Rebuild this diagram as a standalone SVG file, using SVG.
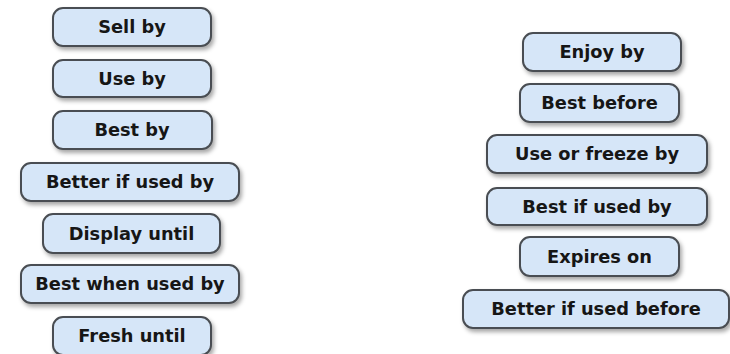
<svg xmlns="http://www.w3.org/2000/svg" width="730" height="354" viewBox="0 0 730 354">
<defs>
<filter id="sh" x="-10%" y="-30%" width="120%" height="170%">
<feDropShadow dx="2" dy="3" stdDeviation="2" flood-color="#000" flood-opacity="0.35"/>
</filter>
<style>
.b{fill:#d6e6f8;stroke:#4a4e52;stroke-width:2;filter:url(#sh)}
.t{font-family:"DejaVu Sans",Verdana,sans-serif;font-weight:bold;font-size:17.8px;fill:#161616;text-anchor:middle}
</style>
</defs>
<rect width="730" height="354" fill="#ffffff"/>
<g id="sell-by"><rect class="b" x="53" y="8" width="158" height="38" rx="10"/><text class="t" x="132" y="33">Sell by</text></g>
<g id="use-by"><rect class="b" x="53" y="60" width="158" height="37" rx="10"/><text class="t" x="132" y="84.5">Use by</text></g>
<g id="best-by"><rect class="b" x="53" y="111" width="159" height="38" rx="10"/><text class="t" x="132" y="136">Best by</text></g>
<g id="better-if-used-by"><rect class="b" x="21" y="163" width="218" height="38" rx="10"/><text class="t" x="130" y="188">Better if used by</text></g>
<g id="display-until"><rect class="b" x="43" y="214" width="177" height="39" rx="10"/><text class="t" x="131.5" y="239.5">Display until</text></g>
<g id="best-when-used-by"><rect class="b" x="21" y="265" width="218" height="38" rx="10"/><text class="t" x="130" y="290">Best when used by</text></g>
<g id="fresh-until"><rect class="b" x="53" y="317" width="158" height="38" rx="10"/><text class="t" x="132" y="342">Fresh until</text></g>
<g id="enjoy-by"><rect class="b" x="523" y="33" width="158" height="38" rx="10"/><text class="t" x="602" y="58">Enjoy by</text></g>
<g id="best-before"><rect class="b" x="520" y="84" width="159" height="38" rx="10"/><text class="t" x="599.5" y="109">Best before</text></g>
<g id="use-or-freeze-by"><rect class="b" x="487" y="135" width="220" height="38" rx="10"/><text class="t" x="597" y="160">Use or freeze by</text></g>
<g id="best-if-used-by"><rect class="b" x="487" y="188" width="220" height="37" rx="10"/><text class="t" x="597" y="212.5">Best if used by</text></g>
<g id="expires-on"><rect class="b" x="520" y="237" width="159" height="39" rx="10"/><text class="t" x="599.5" y="262.5">Expires on</text></g>
<g id="better-if-used-before"><rect class="b" x="463" y="290" width="266" height="38" rx="10"/><text class="t" x="596" y="315">Better if used before</text></g>
<g id="connectors"/>
</svg>
